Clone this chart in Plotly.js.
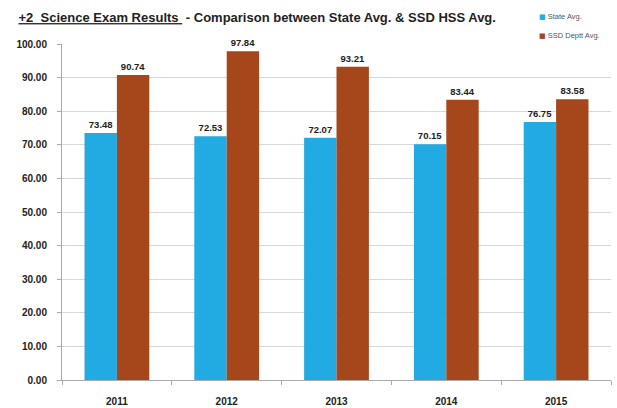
<!DOCTYPE html>
<html>
<head>
<meta charset="utf-8">
<script src="https://cdn.plot.ly/plotly-3.0.1.min.js"></script>
<style>
  html, body { margin: 0; padding: 0; background: #ffffff; }
  #chart { width: 617px; height: 408px; }
</style>
</head>
<body>
<div id="chart"></div>
<script>
// Exam years
const years = ['2011', '2012', '2013', '2014', '2015'];
// Average results (%)
const stateAvg = [73.48, 72.53, 72.07, 70.15, 76.75];
const ssdAvg = [90.74, 97.84, 93.21, 83.44, 83.58];
// Series names and colours
const seriesNames = ['State Avg.', 'SSD Deptt Avg.'];
const seriesColors = ['#22aae2', '#a5471b'];
// Y axis ticks
const yTicks = [0, 10, 20, 30, 40, 50, 60, 70, 80, 90, 100];

const FONT = 'Liberation Sans, Arial, sans-serif';
const labelFont = { family: FONT, size: 9.5, color: '#222222' };

const series = [stateAvg, ssdAvg];
const traces = series.map((vals, i) => ({
  type: 'bar', name: seriesNames[i], x: years, y: vals,
  marker: { color: seriesColors[i] },
  text: vals.map(v => v.toFixed(2)), texttemplate: '<b>%{text}</b>',
  textposition: 'outside', textfont: labelFont, cliponaxis: false
}));

// Compact legend: a coloured square key followed by the series name
const legendY = [1.083, 1.026];
const legendNotes = seriesNames.map((name, i) => ({
  xref: 'paper', yref: 'paper', x: 0.866, y: legendY[i],
  xanchor: 'left', yanchor: 'middle', showarrow: false, align: 'left',
  text: '<span style="color:' + seriesColors[i] + ';font-family:DejaVu Sans;font-size:7px">■</span> ' + name,
  font: { family: FONT, size: 7.5, color: '#555555' }
}));

const layout = {
  width: 617, height: 408,
  margin: { l: 62, r: 6, t: 44, b: 28 },
  paper_bgcolor: '#ffffff', plot_bgcolor: '#ffffff',
  barmode: 'group', bargap: 0.41, bargroupgap: 0,
  showlegend: false,
  title: {
    text: '<b><u>+2  Science Exam Results </u> - Comparison between State Avg. &amp; SSD HSS Avg.</b>',
    x: 0.03, xanchor: 'left', y: 0.957, yanchor: 'middle',
    font: { family: FONT, size: 13, color: '#222222' }
  },
  annotations: legendNotes,
  xaxis: {
    type: 'category', showgrid: false, showline: true, linecolor: '#aaaaaa', linewidth: 1,
    ticks: 'outside', tickson: 'boundaries', ticklen: 4, tickcolor: '#aaaaaa',
    ticklabelstandoff: 12,
    tickvals: years, ticktext: years.map(y => '<b>' + y + '</b>'),
    tickfont: { family: FONT, size: 10, color: '#222222' }
  },
  yaxis: {
    range: [0, 100], tickvals: yTicks, ticktext: yTicks.map(v => '<b>' + v.toFixed(2) + '</b>'),
    showgrid: true, gridcolor: '#d8d8d8', gridwidth: 1,
    showline: true, linecolor: '#aaaaaa', linewidth: 1,
    ticks: 'outside', ticklen: 4, tickcolor: '#aaaaaa', zeroline: false,
    ticklabelstandoff: 8,
    tickfont: { family: FONT, size: 10, color: '#222222' }
  },
  font: { family: FONT }
};

Plotly.newPlot('chart', traces, layout, { displayModeBar: false, staticPlot: true });
</script>
</body>
</html>
